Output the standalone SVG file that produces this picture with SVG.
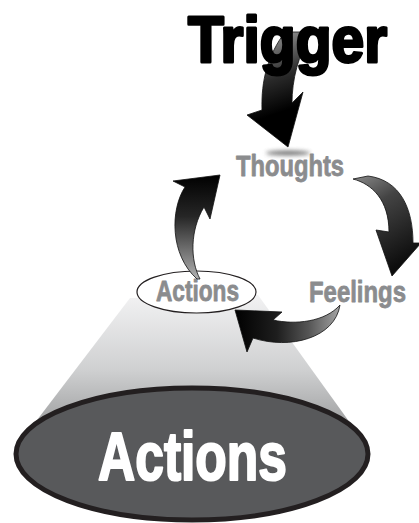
<svg xmlns="http://www.w3.org/2000/svg" width="419" height="523" viewBox="0 0 419 523">
  <defs>
    <style>
      .lbl { font-family: "Liberation Sans", Arial, sans-serif; font-weight: bold; }
      .gray { fill: #8b8c8e; stroke: #8b8c8e; stroke-width: 0.8; stroke-linejoin: round; }
      .arrow { stroke: #111; stroke-width: 0.8; stroke-linejoin: round; }
    </style>
    <linearGradient id="coneFill" x1="0" y1="295" x2="0" y2="445" gradientUnits="userSpaceOnUse">
      <stop offset="0" stop-color="#f2f2f3"/>
      <stop offset="0.5" stop-color="#cfd0d1"/>
      <stop offset="1" stop-color="#8e8f90"/>
    </linearGradient>
    <linearGradient id="gTrigger" x1="0.1" y1="0" x2="0.3" y2="1">
      <stop offset="0" stop-color="#a5a5a5"/>
      <stop offset="0.45" stop-color="#2a2a2a"/>
      <stop offset="0.75" stop-color="#000"/>
    </linearGradient>
    <linearGradient id="gRight" x1="0" y1="0" x2="0.4" y2="1">
      <stop offset="0" stop-color="#8a8a8a"/>
      <stop offset="0.35" stop-color="#444"/>
      <stop offset="1" stop-color="#0d0d0d"/>
    </linearGradient>
    <linearGradient id="gBottom" x1="0" y1="0" x2="1" y2="0">
      <stop offset="0" stop-color="#000"/>
      <stop offset="0.4" stop-color="#1e1e1e"/>
      <stop offset="0.7" stop-color="#555"/>
      <stop offset="1" stop-color="#a5a5a5"/>
    </linearGradient>
    <linearGradient id="gLeft" x1="0" y1="0" x2="0" y2="1">
      <stop offset="0" stop-color="#000"/>
      <stop offset="0.4" stop-color="#262626"/>
      <stop offset="1" stop-color="#b0b0b0"/>
    </linearGradient>
    <filter id="soft" x="-50%" y="-200%" width="200%" height="500%">
      <feGaussianBlur stdDeviation="2"/>
    </filter>
  </defs>

  <!-- base: cone of light and the large disc -->
  <g id="node-actions-base">
    <polygon points="130,298 258,295 366,445 18,445" fill="url(#coneFill)"/>
    <ellipse cx="192" cy="454" rx="176" ry="66" fill="#58595b" stroke="#231f20" stroke-width="5"/>
    <text class="lbl" x="98" y="480" font-size="68" fill="#fff" textLength="189" lengthAdjust="spacingAndGlyphs" stroke="#fff" stroke-width="2.2" stroke-linejoin="round">Actions</text>
  </g>

  <!-- small actions node -->
  <g id="node-actions">
    <ellipse cx="196.5" cy="292" rx="59.5" ry="21" fill="#fff" stroke="#231f20" stroke-width="1.2"/>
    <text class="lbl gray" x="156" y="301" font-size="29.5" textLength="83" lengthAdjust="spacingAndGlyphs">Actions</text>
  </g>

  <!-- curved arrows of the cycle -->
  <g id="connectors">
    <ellipse cx="288" cy="153" rx="22" ry="2.5" fill="#555" filter="url(#soft)" opacity="0.8"/>
    <path class="arrow" fill="url(#gTrigger)" d="M285 32 C268 55 261 80 262 110 L247 115 L288 147 L303 92 L292 103 C292 80 298 55 312 32 Z"/>
    <path class="arrow" fill="url(#gRight)" d="M353 179 C372 184 389 200 389 232 L376 230 L392 276 L421 243 L413 243 C413 208 400 180 368 176 Z"/>
    <path class="arrow" fill="url(#gBottom)" d="M235 310 L282 312 L273 320 C295 325 325 322 340 305 C335 338 290 350 253 338 L247 352 Z"/>
    <path class="arrow" fill="url(#gLeft)" d="M220 175 L173 181 L185 187 C170 210 170 255 197 279 L200 279 C190 260 190 230 204 207 L210 219 Z"/>
  </g>

  <g id="node-trigger">
    <text class="lbl" x="188" y="62" font-size="64" fill="#000" stroke="#000" stroke-width="3" stroke-linejoin="round" textLength="199" lengthAdjust="spacingAndGlyphs">Trigger</text>
  </g>

  <g id="node-thoughts">
    <text class="lbl gray" x="236" y="176" font-size="29.5" textLength="108" lengthAdjust="spacingAndGlyphs">Thoughts</text>
  </g>

  <g id="node-feelings">
    <!-- condensed horizontally so the word stays inside the right edge -->
    <text class="lbl gray" transform="translate(309 302) scale(0.81 1)" x="0" y="0" font-size="29.5" textLength="119.75" lengthAdjust="spacingAndGlyphs">Feelings</text>
  </g>
</svg>
